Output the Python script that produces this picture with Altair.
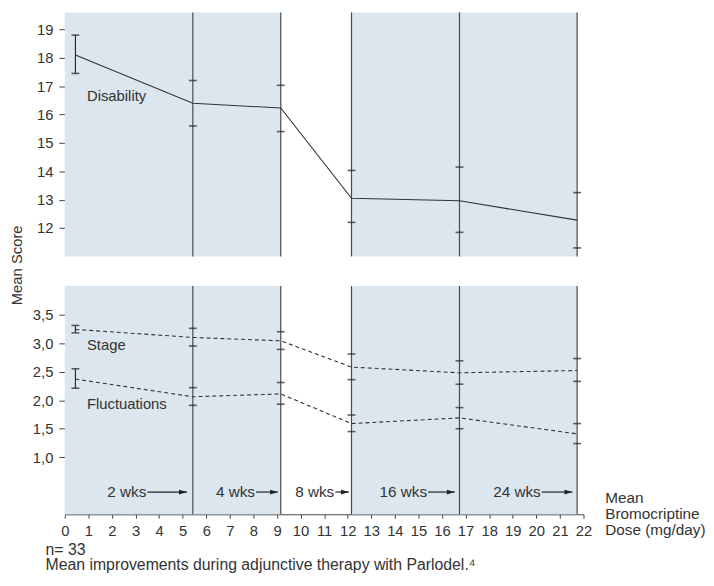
import altair as alt
import pandas as pd

# ---------------- data ----------------
doses = [0.45, 5.43, 9.16, 12.16, 16.74, 21.73]

disability = [18.10, 16.40, 16.23, 13.05, 12.96, 12.28]
disability_hi = [18.80, 17.20, 17.03, 14.03, 14.15, 13.25]
disability_lo = [17.45, 15.60, 15.40, 12.20, 11.85, 11.30]

stage = [3.24, 3.10, 3.04, 2.58, 2.48, 2.52]
stage_hi = [3.31, 3.26, 3.20, 2.81, 2.69, 2.73]
stage_lo = [3.18, 2.95, 2.89, 2.36, 2.28, 2.33]

fluct = [2.37, 2.06, 2.11, 1.59, 1.69, 1.41]
fluct_hi = [2.55, 2.22, 2.31, 1.74, 1.87, 1.59]
fluct_lo = [2.21, 1.91, 1.93, 1.45, 1.50, 1.24]

period_labels = ["2 wks", "4 wks", "8 wks", "16 wks", "24 wks"]
period_label_end = [3.50, 8.11, 11.47, 15.41, 20.23]
period_arrow_end = [5.18, 9.04, 12.05, 16.54, 21.53]
period_label_y = [0.39] * 5

shade_start = [0.0, 12.16]
shade_end = [9.16, 21.73]

x_ticks = list(range(0, 23))
top_ticks = [12, 13, 14, 15, 16, 17, 18, 19]
bottom_ticks = [1.0, 1.5, 2.0, 2.5, 3.0, 3.5]

series_names = ["Disability", "Stage", "Fluctuations"]
series_label_x = [0.94, 0.94, 0.94]
series_label_y = [16.66, 2.97, 1.94]

y_title = "Mean Score"
x_title_lines = ["Mean", "Bromocriptine", "Dose (mg/day)"]
caption_lines = ["n= 33", "Mean improvements during adjunctive therapy with Parlodel.\u2074"]

# ---------------- styling ----------------
W = 525
H_TOP = 247
H_BOT = 231
SHADE = "#dce6ee"
INK = "#333333"
FONT = "Liberation Sans"
FS = 15

xscale = alt.Scale(domain=[0, 22], nice=False, zero=False)
x_axis_bottom = alt.Axis(values=x_ticks, title=None, grid=False, domain=True,
                         domainColor="#444444", tickColor="#444444", tickSize=4,
                         labelPadding=5, labelFontSize=FS, labelColor=INK,
                         labelFlush=False, labelFont=FONT)


def X(field, bottom):
    return alt.X(field, type="quantitative", scale=xscale,
                 axis=x_axis_bottom if bottom else None)


def y_axis(vals, fmt_comma):
    expr = "replace(format(datum.value, '.1f'), '.', ',')" if fmt_comma else "format(datum.value, 'd')"
    return alt.Axis(values=vals, title=None, grid=False, domain=False,
                    tickColor="#444444", tickSize=6, labelPadding=6,
                    labelFontSize=FS, labelColor=INK, labelFont=FONT,
                    labelExpr=expr)


top_yscale = alt.Scale(domain=[11.0, 19.6], nice=False, zero=False)
bot_yscale = alt.Scale(domain=[0.0, 4.0], nice=False, zero=False)


def Y(field, top):
    if top:
        return alt.Y(field, type="quantitative", scale=top_yscale, axis=y_axis(top_ticks, False))
    return alt.Y(field, type="quantitative", scale=bot_yscale, axis=y_axis(bottom_ticks, True))


shade_df = pd.DataFrame({"start": shade_start, "end": shade_end})
vline_df = pd.DataFrame({"dose": doses[1:]})


def panel_base(top, height):
    bottom = not top
    shade = alt.Chart(shade_df).mark_rect(color=SHADE).encode(
        x=X("start", bottom), x2="end", y=alt.value(0), y2=alt.value(height))
    vlines = alt.Chart(vline_df).mark_rule(color="#4a4a4a", strokeWidth=1.2).encode(
        x=X("dose", bottom), y=alt.value(0), y2=alt.value(height))
    return [shade, vlines]


def series_layers(name, mean, hi, lo, top, dashed):
    bottom = not top
    df = pd.DataFrame({"dose": doses, "mean": mean, "hi": hi, "lo": lo,
                       "series": [name] * len(doses)})
    line_kw = dict(color=INK, strokeWidth=1.1)
    if dashed:
        line_kw["strokeDash"] = [4, 3]
    line = alt.Chart(df).mark_line(**line_kw).encode(
        x=X("dose", bottom), y=Y("mean", top))
    cap_hi = alt.Chart(df).mark_tick(orient="horizontal", size=8, thickness=1.6, color="#222222").encode(
        x=X("dose", bottom), y=Y("hi", top))
    cap_lo = alt.Chart(df).mark_tick(orient="horizontal", size=8, thickness=1.6, color="#222222").encode(
        x=X("dose", bottom), y=Y("lo", top))
    bar = alt.Chart(df).transform_filter("datum.dose < 1").mark_rule(
        color="#222222", strokeWidth=1.1).encode(
        x=X("dose", bottom), y=Y("lo", top), y2="hi")
    return [line, bar, cap_hi, cap_lo]


label_df = pd.DataFrame({"name": series_names, "x": series_label_x, "y": series_label_y})


def series_label(name, top):
    return alt.Chart(label_df).transform_filter(alt.datum.name == name).mark_text(
        align="left", baseline="middle", font=FONT, fontSize=FS, color=INK).encode(
        x=X("x", not top), y=Y("y", top), text="name:N")


# ---------------- top panel ----------------
top_layers = panel_base(True, H_TOP)
top_layers += series_layers("Disability", disability, disability_hi, disability_lo, True, False)
top_layers.append(series_label("Disability", True))
top = alt.layer(*top_layers).properties(width=W, height=H_TOP)

# ---------------- bottom panel ----------------
bot_layers = panel_base(False, H_BOT)
bot_layers += series_layers("Stage", stage, stage_hi, stage_lo, False, True)
bot_layers += series_layers("Fluctuations", fluct, fluct_hi, fluct_lo, False, True)
bot_layers.append(series_label("Stage", False))
bot_layers.append(series_label("Fluctuations", False))

period_df = pd.DataFrame({"label": period_labels, "end": period_label_end,
                          "arrow": period_arrow_end, "y": period_label_y})
bot_layers.append(alt.Chart(period_df).mark_text(
    align="right", baseline="middle", dx=-1, font=FONT, fontSize=15.5, color=INK).encode(
    x=X("end", True), y=Y("y", False), text="label:N"))
bot_layers.append(alt.Chart(period_df).mark_rule(color="#222222", strokeWidth=1.2).encode(
    x=X("end", True), x2="arrow", y=Y("y", False)))
bot_layers.append(alt.Chart(period_df).mark_point(
    shape="M -1 -0.6 L 1 0 L -1 0.6 Z", size=64, filled=True, color="#222222",
    opacity=1, xOffset=-4).encode(
    x=X("arrow", True), y=Y("y", False)))

# annotation texts
xt_df = pd.DataFrame({"t": ["\n".join(x_title_lines)]})
bot_layers.append(alt.Chart(xt_df).mark_text(
    align="left", baseline="alphabetic", lineBreak="\n", lineHeight=16,
    font=FONT, fontSize=15.5, color=INK).encode(
    x=alt.value(547), y=alt.value(220), text="t:N"))

cap_df = pd.DataFrame({"t": ["\n".join(caption_lines)]})
bot_layers.append(alt.Chart(cap_df).mark_text(
    align="left", baseline="alphabetic", lineBreak="\n", lineHeight=15.5,
    font=FONT, fontSize=16, color=INK).encode(
    x=alt.value(-19.5), y=alt.value(272), text="t:N"))

yt_df = pd.DataFrame({"t": [y_title]})
bot_layers.append(alt.Chart(yt_df).mark_text(
    align="center", baseline="middle", angle=270,
    font=FONT, fontSize=15, color=INK).encode(
    x=alt.value(-48.5), y=alt.value(-21), text="t:N"))

bottom = alt.layer(*bot_layers).properties(width=W, height=H_BOT)

chart = alt.vconcat(top, bottom, spacing=30, bounds="flush").properties(
    padding={"left": 1.5, "top": 0, "right": 0, "bottom": 0},
    background="white",
).configure_view(stroke=None).configure_axis(grid=False)

chart.save("out.html", embed_options={"renderer": "svg", "actions": False})
